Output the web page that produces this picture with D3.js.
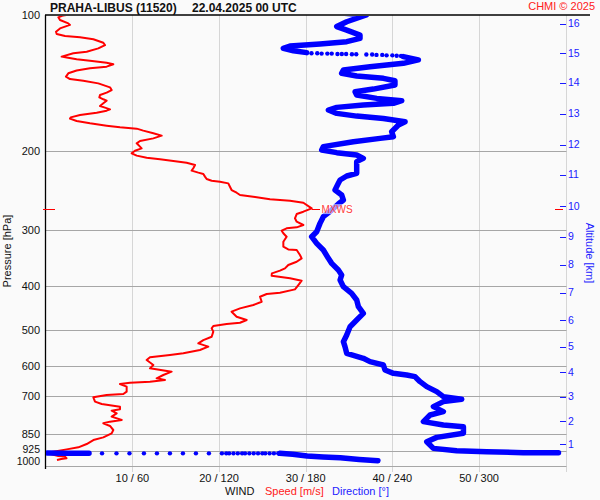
<!DOCTYPE html>
<html><head><meta charset="utf-8">
<script src="https://cdn.jsdelivr.net/npm/d3@7"></script>
<style>
body{margin:0;background:#fafafa}
svg{display:block}
text{font-family:"Liberation Sans",Arial,sans-serif}
</style>
</head><body>
<svg id="c" width="600" height="500"></svg>
<script>
// ---------------- DATA ----------------
const titleStation = "PRAHA-LIBUS (11520)";
const titleTime = "22.04.2025 00 UTC";
const copyright = "CHMI \u00a9 2025";
const pressureTicks = [100, 200, 300, 400, 500, 600, 700, 850, 925, 1000];
const speedTicks = [10, 20, 30, 40, 50];
const dirTicks = [60, 120, 180, 240, 300];
const altKm = [1, 2, 3, 4, 5, 6, 7, 8, 9, 10, 11, 12, 13, 14, 15, 16];
const altPres = [896.5, 796.5, 702.6, 619.4, 544.3, 475.0, 413.0, 357.9, 310.3, 265.3, 226.1, 194.0, 165.8, 141.3, 121.6, 104.7];
const mxwsPres = 269.5;
const mxwsSpeed = 30.7;

// wind speed [hPa, m/s]
const speedProfile = [
[99.1,3.96],[100.2,2.03],[101.2,1.46],[102.6,1.65],[104.4,2.61],[105.2,2.80],[107.1,1.65],[108.9,1.19],[110.2,1.27],[111.3,2.23],
[112.1,3.96],[113.2,5.50],[115.2,6.65],[116.6,6.84],[118.6,6.07],[120.6,4.73],[121.6,3.19],[123.7,1.84],[124.3,2.42],[125.4,3.57],
[126.3,5.11],[127.6,7.03],[128.6,7.80],[130.2,7.03],[131.3,5.11],[132.8,3.57],[134.7,2.61],[137.0,2.34],[138.7,2.80],[139.9,4.34],
[141.8,6.07],[144.7,7.42],[146.7,7.61],[148.7,7.03],[150.5,6.27],[152.3,6.19],[153.8,6.65],[154.9,7.03],[157.0,6.65],[159.2,6.27],
[160.5,6.84],[161.9,7.42],[163.0,7.03],[164.7,5.88],[166.7,3.96],[168.7,2.88],[169.8,2.80],[171.9,3.57],[173.9,5.11],[176.0,7.03],
[177.5,8.57],[178.7,10.50],[180.5,11.26],[183.0,12.42],[185.2,13.38],[187.8,12.42],[190.3,10.88],[192.6,10.50],[195.9,10.88],[197.6,11.07],
[200.0,10.30],[202.7,9.92],[205.1,10.50],[207.3,11.65],[209.0,13.19],[210.8,14.73],[212.6,16.26],[215.1,17.23],[218.8,17.03],[221.4,16.84],
[223.7,17.61],[225.2,18.19],[228.3,18.38],[231.1,18.57],[233.1,19.15],[234.3,20.11],[236.3,21.07],[240.4,21.26],[244.5,21.45],[247.9,22.03],
[250.8,22.42],[253.4,24.16],[255.3,25.3],[256.4,25.88],[258.2,28.19],[260.9,29.73],[268.5,30.69],[273.1,29.73],[276.4,28.96],[282.5,28.76],
[287.4,28.96],[292.3,29.73],[295.8,28.96],[297.3,27.80],[300.9,27.23],[305.0,27.42],[310.3,27.80],[318.4,27.42],[326.6,27.42],[331.1,27.99],
[332.2,28.96],[340.8,29.34],[346.6,29.53],[352.6,28.96],[358.5,27.99],[364.8,27.61],[369.1,27.03],[374.2,26.1],[378.7,26.07],[383.8,28.19],
[388.5,29.53],[397.2,29.15],[406.1,28.76],[413.1,27.03],[415.9,25.50],[421.6,24.73],[432.5,24.92],[439.9,23.96],[447.5,22.42],[455.1,21.45],
[466.9,22.03],[475.0,23.19],[481.5,22.42],[484.7,20.88],[489.7,19.34],[495.5,19.15],[504.0,19.34],[517.2,19.15],[526.1,18.19],[535.1,17.61],
[544.1,18.76],[553.5,17.80],[563.0,15.88],[567.8,14.34],[574.6,12.03],[582.5,11.65],[597.6,12.42],[607.9,12.03],[618.3,14.53],[628.9,13.57],
[639.7,12.80],[645.3,13.76],[650.8,12.03],[654.1,9.73],[658.5,8.57],[667.5,9.34],[684.7,9.34],[693.0,8.96],[696.5,7.03],[704.9,5.50],
[720.6,5.69],[729.3,6.46],[739.3,8.57],[749.4,8.57],[754.6,7.61],[764.9,8.19],[778.0,7.61],[791.4,8.77],[798.1,7.42],[804.9,6.65],
[816.0,7.42],[832.9,7.80],[847.2,7.61],[864.9,6.65],[876.8,5.50],[894.7,4.73],[910.1,3.77],[919.5,2.42],[930.4,0.88],[935.4,0.11],
[942,0.6],[947,1.0],[951,1.45],[954,2.2],[962,2.4],[966,1.8],[971,1.3]
];

// wind direction [hPa, deg] - continuous parts and sparse samples
const dirTop = [
[98.8,201.5],[100,222],[103.5,208.4],[106.1,201.5],[108,208.4],[110.8,217.6],[112.7,217.6],[114.6,208.4],[116,189.9],[117.2,169.1],
[118.6,164.5],[120,171.5],[121.2,180.7]
];
const dirDotsTop = [
[121.6,184],[121.6,188],[121.8,191],[121.8,195],[121.8,198],[122.0,202],[122.0,205],[122.0,208],[122.2,212],[122.2,215],
[122.4,222],[122.4,226],[122.6,229],[122.6,233],[122.9,236],[122.9,240],[123.1,243],[123.3,246]
];
const dirMid = [
[123.7,247.6],[125.8,258],[128,247.6],[130.2,224.5],[132.4,206.1],[134.7,204.9],[136.6,215.3],[138.2,233.8],[139.9,241.8],[143,241.8],
[146,226.8],[148,214.2],[150.5,215.3],[153.1,229.2],[154.9,246.5],[157,240.7],[158.4,219.9],[160.3,201.5],[162.5,195.7],[165.3,201.5],
[167.6,215.3],[169.6,233.8],[172.5,248.8],[175.4,244.2],[181.5,239.5],[186.2,240.7],[187.8,231.5],[191,213],[195.9,192.2],[199.3,191.1],
[202,201.5],[204.5,215.3],[208,219.9],[211.5,215.3],[218.8,215.3],[224.5,215.3],[227.6,208.4],[232.3,203.8],[236.3,202.6],[244.5,200.3],
[250.8,204.9],[257.3,206.1],[262.6,202.6],[270.8,198],[280.2,192.2],[289.9,189.9],[302.5,187.6],[310.3,184.1],[321.1,187.6],[332.2,192.2],
[346.6,195.7],[355.6,198],[367.9,202.6],[377.4,204.9],[387.2,203.8],[400.6,206.1],[414.5,211.8],[428.8,215.3],[443.7,216.5],[459.1,219.9],
[475,215.3],[491.4,210.7],[512.6,208.4],[530.4,206.1],[544.1,207.2],[563,208.4],[577.5,219.9],[587.5,224.5],[597.6,233.8],[613,234.9],
[623.6,240.7],[628.9,249.9],[634.3,255.7],[650.7,259.2],[667.5,263.8],[684.7,270.7],[702.4,275.3],[712.1,288],[720.5,275.3],[739.1,268.4],
[758.2,275.3],[771.3,266.1],[798,261.5],[811.7,275.3],[818.7,289.2],[847,289.2],[864.8,270.7],[884.3,263.8],[914.8,268.4],[925.6,284.5],
[930.4,305.3],[935.1,330.7],[935.5,355]
];
const dirSfcA = [[936.8,1],[937.6,15],[938.3,30]];
const dirDotsSfc = [
[938.3,39],[938.3,49],[938.3,58],[938.3,68],[938.3,77],[938.3,86],[938.3,95],[938.3,104],[938.3,113],
[938.3,122],[938.3,125],[938.3,127],[938.3,130],[938.3,133],[938.3,136],[938.3,138],[938.3,141],[938.3,144],[938.3,147],
[938.3,150],[938.3,152],[938.3,155],[938.3,158],[938.3,161]
];
const dirSfcB = [[938.3,162],[943,171],[951,181],[956,192],[960,204],[968,217],[974,230]];

// ---------------- CHART ----------------
const svg = d3.select('#c');
svg.append('rect').attr('width',600).attr('height',500).attr('fill','#fafafa');

const L = 45.7, R = 565.7, T = 15, B = 465.8;
const y = d3.scaleLog().domain([100,1000]).range([T,B]);
const xs = d3.scaleLinear().domain([0,60]).range([L,R]);
const xd = d3.scaleLinear().domain([0,360]).range([L,R]);
const px = v => Math.round(v) + 0.5;

// vertical gridlines
svg.append('g').selectAll('line').data(speedTicks.concat([60])).join('line')
  .attr('x1', d => px(xs(d))).attr('x2', d => px(xs(d)))
  .attr('y1', T).attr('y2', 472)
  .attr('stroke', '#d6d6d6').attr('stroke-width', 1);

// horizontal gridlines
svg.append('g').selectAll('line').data(pressureTicks.slice(1)).join('line')
  .attr('x1', 45).attr('x2', px(R))
  .attr('y1', d => px(y(d))).attr('y2', d => px(y(d)))
  .attr('stroke', '#a6a6a6').attr('stroke-width', 1);

// frame
svg.append('line').attr('x1',45).attr('x2',590).attr('y1',px(T)-0.5).attr('y2',px(T)-0.5).attr('stroke','#000').attr('stroke-width',1.3);
svg.append('line').attr('x1',45.5).attr('x2',45.5).attr('y1',T).attr('y2',469).attr('stroke','#000').attr('stroke-width',1.3);

// pressure labels
const labelShift = {925: 2.2, 1000: -0.8};
svg.append('g').selectAll('text').data(pressureTicks).join('text')
  .attr('x', 40).attr('y', d => y(d) + (labelShift[d] !== undefined ? labelShift[d] : 4))
  .attr('text-anchor','end').attr('font-size', d => (d >= 925 ? 10.5 : 11)).attr('fill','#111')
  .text(d => d);

svg.append('text').attr('transform','translate(11,251) rotate(-90)')
  .attr('text-anchor','middle').attr('font-size',11).attr('fill','#111').text('Pressure [hPa]');

// altitude axis
const alt = svg.append('g');
alt.selectAll('line').data(altKm).join('line')
  .attr('x1', 560).attr('x2', 566)
  .attr('y1', (d,i) => px(y(altPres[i]))).attr('y2', (d,i) => px(y(altPres[i])))
  .attr('stroke','#1a1aff').attr('stroke-width',1);
alt.selectAll('text').data(altKm).join('text')
  .attr('x', 568).attr('y', (d,i) => y(altPres[i]) + 3.5)
  .attr('font-size',10.5).attr('fill','#1a1aff').text(d => d);
svg.append('text').attr('transform','translate(586,253) rotate(90)')
  .attr('text-anchor','middle').attr('font-size',11).attr('fill','#1a1aff').text('Altitude [km]');

// bottom tick labels
svg.append('g').selectAll('text').data(speedTicks).join('text')
  .attr('x', d => xs(d)).attr('y', 482)
  .attr('text-anchor','middle').attr('font-size',11).attr('fill','#111')
  .text((d,i) => d + ' / ' + dirTicks[i]);

svg.append('text').attr('x',225).attr('y',495).attr('font-size',11).attr('fill','#111').text('WIND');
svg.append('text').attr('x',265).attr('y',495).attr('font-size',11).attr('fill','#ff2020').text('Speed [m/s]');
svg.append('text').attr('x',332).attr('y',495).attr('font-size',11).attr('fill','#2222ff').text('Direction [\u00b0]');

// title
svg.append('text').attr('x',50).attr('y',12).attr('font-size',12).attr('font-weight','bold').attr('fill','#111').text(titleStation);
svg.append('text').attr('x',192).attr('y',12).attr('font-size',12).attr('font-weight','bold').attr('fill','#111').text(titleTime);
svg.append('text').attr('x',595).attr('y',10).attr('text-anchor','end').attr('font-size',11).attr('fill','#ff2020').text(copyright);

// clip
svg.append('clipPath').attr('id','clip').append('rect').attr('x',46).attr('y',T+1).attr('width',R-46+2).attr('height',B-T);
const plot = svg.append('g').attr('clip-path','url(#clip)');

// speed line
const lineS = d3.line().x(d => xs(d[1])).y(d => y(d[0]));
plot.append('path').datum(speedProfile).attr('d', lineS)
  .attr('fill','none').attr('stroke','#ff0000').attr('stroke-width',2).attr('stroke-linejoin','round');

// direction
const lineD = d3.line().x(d => xd(d[1])).y(d => y(d[0]));
[dirTop, dirMid, dirSfcA, dirSfcB].forEach(seg => {
  plot.append('path').datum(seg).attr('d', lineD)
    .attr('fill','none').attr('stroke','#0000ff').attr('stroke-width',5.5)
    .attr('stroke-linejoin','round').attr('stroke-linecap','round');
});
plot.append('g').selectAll('circle').data(dirDotsTop.concat(dirDotsSfc)).join('circle')
  .attr('cx', d => xd(d[1])).attr('cy', d => y(d[0])).attr('r', 2.2).attr('fill','#0000ff');

// MXWS marker
const ym = y(mxwsPres);
svg.append('line').attr('x1',43).attr('x2',55).attr('y1',px(ym)).attr('y2',px(ym)).attr('stroke','#ff0000');
svg.append('line').attr('x1',555).attr('x2',563).attr('y1',px(ym)).attr('y2',px(ym)).attr('stroke','#ff0000');
svg.append('line').attr('x1',xs(mxwsSpeed)).attr('x2',320).attr('y1',px(ym)).attr('y2',px(ym)).attr('stroke','#ff0000');
svg.append('rect').attr('x',320).attr('y',ym-5).attr('width',33).attr('height',10).attr('fill','#ffffff').attr('opacity',0.6);
svg.append('text').attr('x',321.5).attr('y',ym+4).attr('font-size',10).attr('fill','#ff4040').text('MXWS');
</script>
</body></html>
